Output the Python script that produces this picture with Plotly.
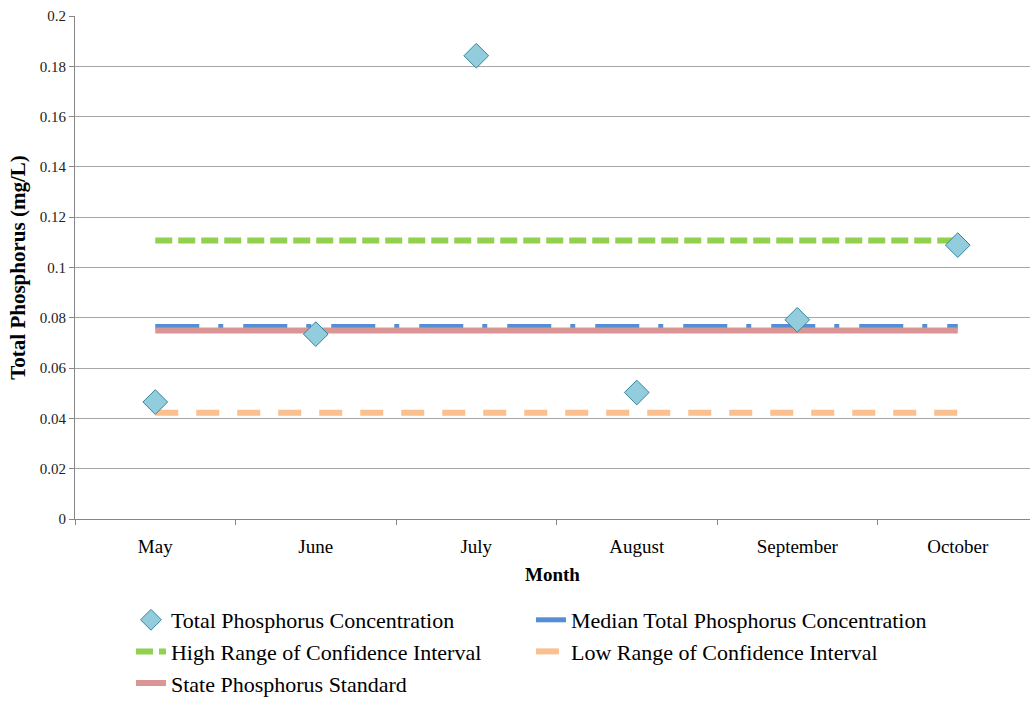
import plotly.graph_objects as go

months = ["May", "June", "July", "August", "September", "October"]
tp_conc = [0.0465, 0.0735, 0.1842, 0.0503, 0.0792, 0.1089]
median_tp = [0.0765] * 6
high_ci = [0.1107] * 6
low_ci = [0.0422] * 6
state_std = [0.075] * 6

FONT = "Liberation Serif"

fig = go.Figure()
fig.add_trace(go.Scatter(x=months, y=median_tp, mode="lines", name="Median Total Phosphorus Concentration",
                         line=dict(color="#558ed5", width=5, dash="44px,19px,5px,20px"), legendrank=2))
fig.add_trace(go.Scatter(x=months, y=high_ci, mode="lines", name="High Range of Confidence Interval",
                         line=dict(color="#92d050", width=6, dash="17px,6px"), legendrank=3))
fig.add_trace(go.Scatter(x=months, y=low_ci, mode="lines", name="Low Range of Confidence Interval",
                         line=dict(color="#fac090", width=6, dash="23px,18px"), legendrank=4))
fig.add_trace(go.Scatter(x=months, y=state_std, mode="lines", name="State Phosphorus Standard",
                         line=dict(color="#d99694", width=6), legendrank=5))
fig.add_trace(go.Scatter(x=months, y=tp_conc, mode="markers", name="Total Phosphorus Concentration",
                         marker=dict(symbol="diamond", size=19, color="#93cddd",
                                     line=dict(color="#31859c", width=1)), legendrank=1))

fig.update_layout(
    width=1030, height=704, autosize=False,
    margin=dict(l=75, r=0, t=16, b=177),
    paper_bgcolor="white", plot_bgcolor="white",
    font=dict(family=FONT, color="#000000", size=16),
    showlegend=True,
    legend=dict(orientation="h", x=0.0586, xanchor="left", y=-0.160, yanchor="top",
                entrywidth=355, entrywidthmode="pixels",
                font=dict(family=FONT, size=22),
                traceorder="normal"),
)
fig.update_xaxes(
    type="category", range=[-0.5, 5.45], showgrid=False, automargin=False,
    showline=True, linecolor="#868686", linewidth=1,
    ticks="outside", ticklen=5, tickcolor="#868686", tickson="boundaries",
    ticklabelstandoff=10,
    tickfont=dict(family=FONT, size=19),
    title=dict(text="<b>Month</b>", font=dict(family=FONT, size=19), standoff=11),
)
fig.update_yaxes(
    range=[0, 0.2], dtick=0.02, tick0=0, automargin=False,
    showgrid=True, gridcolor="#a6a6a6", gridwidth=1,
    showline=True, linecolor="#868686", linewidth=1,
    ticks="outside", ticklen=5, tickcolor="#868686",
    tickfont=dict(family=FONT, size=15, color="#222222"),
    title=dict(text="<b>Total Phosphorus (mg/L)</b>", font=dict(family=FONT, size=21), standoff=8),
    zeroline=False,
)

fig.write_html("out.html", config={"displayModeBar": False, "responsive": False},
               post_script="document.body.style.margin='0';document.body.style.overflow='hidden';")
